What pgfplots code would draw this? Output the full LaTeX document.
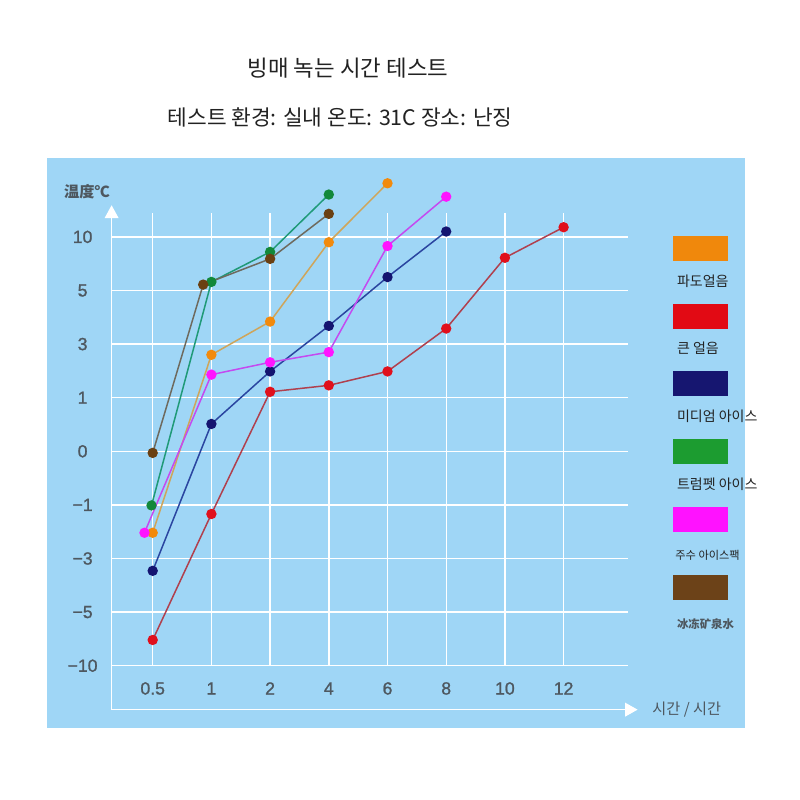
\documentclass[border=0pt]{standalone}
\usepackage{pgfplots}
\pgfplotsset{compat=1.18}
\usepackage{fontspec}
\setmainfont{Liberation Sans}
\newfontfamily\tickfont[FakeBold=1.2]{Liberation Sans}
\newfontfamily\kr{Noto Sans CJK KR}
\newfontfamily\cjksc{Noto Sans CJK SC}
\definecolor{bgblue}{HTML}{9FD6F6}
\definecolor{titlec}{HTML}{222222}
\definecolor{tickc}{HTML}{4E5860}
\definecolor{orL}{HTML}{CFA55A}\definecolor{orM}{HTML}{F28A0C}
\definecolor{rdL}{HTML}{B0404E}\definecolor{rdM}{HTML}{E0101C}
\definecolor{nvL}{HTML}{2A45A0}\definecolor{nvM}{HTML}{141470}
\definecolor{gnL}{HTML}{1F9A78}\definecolor{gnM}{HTML}{12883A}
\definecolor{mgL}{HTML}{C44AF0}\definecolor{mgM}{HTML}{FF14FF}
\definecolor{brL}{HTML}{6E6A5E}\definecolor{brM}{HTML}{6A4012}
\definecolor{orS}{HTML}{F0880C}\definecolor{rdS}{HTML}{E20A14}
\definecolor{nvS}{HTML}{161670}\definecolor{gnS}{HTML}{1C9C30}
\definecolor{mgS}{HTML}{FF12FF}\definecolor{brS}{HTML}{6C4218}
\begin{document}
\begin{tikzpicture}
\path[use as bounding box] (0,0) rectangle (400bp,400bp);
\fill[white] (0,0) rectangle (400bp,400bp);
\fill[bgblue] (23.5bp,36bp) rectangle (372.5bp,321bp);
\node[text=titlec] at (174bp,366bp) {\kr\fontsize{11.2bp}{13bp}\selectfont 빙매 녹는 시간 테스트};
\node[text=titlec] at (170bp,341.5bp) {\kr\fontsize{10.7bp}{12bp}\selectfont 테스트 환경: 실내 온도: 31C 장소: 난징};
\begin{axis}[
  x=29.35bp, y=26.8bp, anchor=origin, at={(76.35bp,67.15bp)},
  xmin=-0.7, xmax=8.1, ymin=-0.82, ymax=8.7,
  clip=false, axis line style={draw=none},
  major tick length=0,
  xtick={0,...,7}, xticklabels={0.5,1,2,4,6,8,10,12},
  ytick={0,...,8}, yticklabels={−10,−5,−3,−1,0,1,3,5,10},
  ymajorgrids, grid style={white, line width=0.7bp},
  yticklabel style={anchor=center, xshift=-14.5bp, text=tickc, font=\tickfont\fontsize{8.8bp}{10bp}\selectfont},
  xticklabel style={anchor=center, yshift=10.6bp, text=tickc, font=\tickfont\fontsize{8.8bp}{10bp}\selectfont},
  every axis plot/.append style={line width=0.75bp, mark=*, mark size=2.2bp},
]
\draw[white, line width=0.7bp] (axis cs:0,0) -- (axis cs:0,8.45);
\draw[white, line width=0.7bp] (axis cs:1,0) -- (axis cs:1,8.45);
\draw[white, line width=0.7bp] (axis cs:2,0) -- (axis cs:2,8.45);
\draw[white, line width=0.7bp] (axis cs:3,0) -- (axis cs:3,8.45);
\draw[white, line width=0.7bp] (axis cs:4,0) -- (axis cs:4,8.45);
\draw[white, line width=0.7bp] (axis cs:5,0) -- (axis cs:5,8.45);
\draw[white, line width=0.7bp] (axis cs:6,0) -- (axis cs:6,8.45);
\draw[white, line width=0.7bp] (axis cs:7,0) -- (axis cs:7,8.45);
\draw[white, line width=0.8bp] (axis cs:-0.7,-0.82) -- (axis cs:-0.7,8.36);
\fill[white] (axis cs:-0.82,8.35) -- (axis cs:-0.58,8.35) -- (axis cs:-0.7,8.59) -- cycle;
\draw[white, line width=0.8bp] (axis cs:-0.7,-0.82) -- (axis cs:8.06,-0.82);
\fill[white] (axis cs:8.05,-0.95) -- (axis cs:8.05,-0.69) -- (axis cs:8.26,-0.82) -- cycle;
% 파도얼음
\addplot[color=orL, mark options={fill=orM, draw=orM}] coordinates {(0,2.48)(1,5.80)(2,6.42)(3,7.90)(4,9.00)};
% 큰 얼음
\addplot[color=rdL, mark options={fill=rdM, draw=rdM}] coordinates {(0,0.48)(1,2.83)(2,5.11)(3,5.23)(4,5.49)(5,6.29)(6,7.61)(7,8.18)};
% 미디엄 아이스
\addplot[color=nvL, mark options={fill=nvM, draw=nvM}] coordinates {(0,1.77)(1,4.51)(2,5.49)(3,6.34)(4,7.25)(5,8.10)};
% 트럼펫 아이스
\addplot[color=gnL, mark options={fill=gnM, draw=gnM}] coordinates {(-0.02,2.99)(1,7.16)(2,7.72)(3,8.79)};
% 주수 아이스팩
\addplot[color=mgL, mark options={fill=mgM, draw=mgM}] coordinates {(-0.14,2.48)(1,5.43)(2,5.66)(3,5.85)(4,7.83)(5,8.75)};
% 冰冻矿泉水
\addplot[color=brL, mark options={fill=brM, draw=brM}] coordinates {(0,3.97)(0.86,7.11)(2,7.59)(3,8.43)};
\end{axis}
\node[text=tickc] at (43.5bp,304bp) {\cjksc\bfseries\fontsize{7.6bp}{9bp}\selectfont 温度℃};
\node[text=tickc, anchor=west, inner sep=0] at (326bp,45bp) {\kr\fontsize{7.6bp}{9bp}\selectfont 시간 / 시간};
\fill[orS] (336.7bp,269.5bp) rectangle (363.9bp,282bp);
\fill[rdS] (336.7bp,235.5bp) rectangle (363.9bp,248bp);
\fill[nvS] (336.7bp,202bp) rectangle (363.9bp,214.5bp);
\fill[gnS] (336.7bp,168bp) rectangle (363.9bp,180.5bp);
\fill[mgS] (336.7bp,134bp) rectangle (363.9bp,146.5bp);
\fill[brS] (336.7bp,100bp) rectangle (363.9bp,112.5bp);
\node[anchor=west, inner sep=0, text=titlec] at (338.3bp,259.5bp) {\kr\fontsize{7bp}{8bp}\selectfont 파도얼음};
\node[anchor=west, inner sep=0, text=titlec] at (338.3bp,225.8bp) {\kr\fontsize{7bp}{8bp}\selectfont 큰 얼음};
\node[anchor=west, inner sep=0, text=titlec] at (338.3bp,191.7bp) {\kr\fontsize{7bp}{8bp}\selectfont 미디엄 아이스};
\node[anchor=west, inner sep=0, text=titlec] at (338.3bp,157.8bp) {\kr\fontsize{7bp}{8bp}\selectfont 트럼펫 아이스};
\node[anchor=west, inner sep=0, text=titlec] at (337.5bp,122.5bp) {\kr\fontsize{5.6bp}{7bp}\selectfont 주수 아이스팩};
\node[anchor=west, inner sep=0, text=tickc] at (338.3bp,88bp) {\cjksc\bfseries\fontsize{5.7bp}{7bp}\selectfont 冰冻矿泉水};
\end{tikzpicture}
\end{document}
